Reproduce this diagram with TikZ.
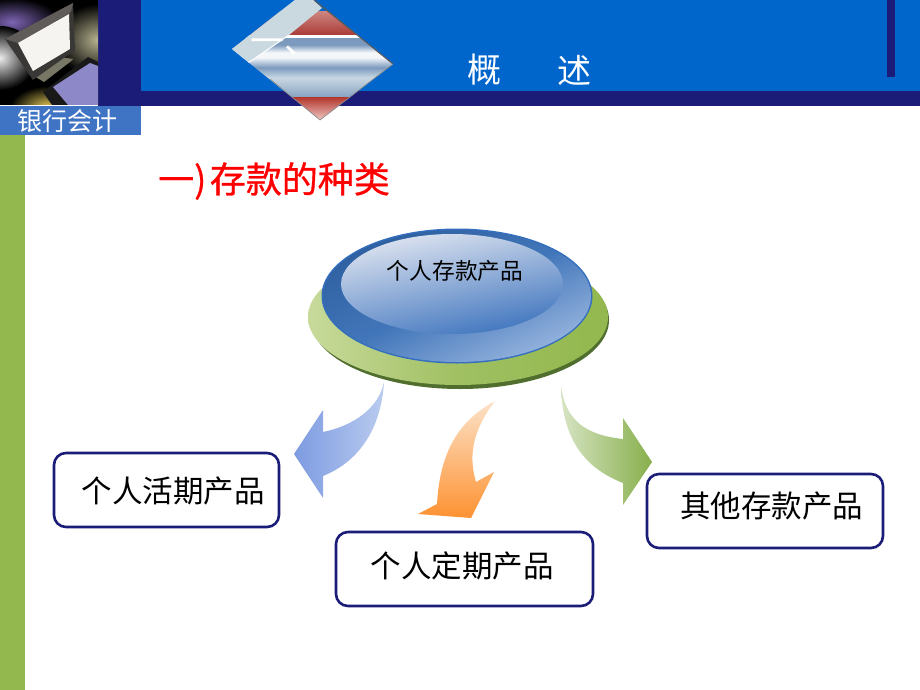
\documentclass[tikz,border=0pt]{standalone}
\usepackage{fontspec}
\newfontfamily\cjk{Noto Sans CJK SC}
\newfontfamily\cjkh[FakeBold=0.8]{Noto Sans CJK SC}
\usetikzlibrary{shadings,calc}
\definecolor{navy}{HTML}{1B1C78}
\definecolor{hblue}{HTML}{0066CC}
\definecolor{lblblue}{HTML}{3F74C4}
\definecolor{barg}{HTML}{93B84E}
\definecolor{sa}{HTML}{F4F7FA}
\definecolor{sb}{HTML}{B8C8D8}
\definecolor{sc}{HTML}{7C9ABE}
\definecolor{sd}{HTML}{DCE6EE}
\definecolor{se}{HTML}{A8BDD2}
\definecolor{sf}{HTML}{C8D6E2}
\definecolor{sg}{HTML}{F6F8FA}
\definecolor{mpurple}{RGB}{125,100,180}
\definecolor{mtan}{RGB}{185,180,145}
\definecolor{myellow}{RGB}{235,210,90}
\definecolor{mwhite}{RGB}{235,235,235}
\definecolor{mpanel}{RGB}{141,136,200}
\definecolor{mscreen}{RGB}{246,244,240}
\definecolor{mbezel}{RGB}{58,56,54}
\definecolor{mbezeltop}{RGB}{95,92,90}
\definecolor{mstand}{RGB}{120,118,100}
\definecolor{redlt}{RGB}{205,130,125}
\definecolor{reddk}{RGB}{170,60,55}
\definecolor{redbt}{RGB}{180,60,50}
\definecolor{redpl}{RGB}{240,200,195}
\definecolor{dlight}{RGB}{202,216,224}
\definecolor{gshadow}{RGB}{80,110,45}
\definecolor{glt}{RGB}{200,218,155}
\definecolor{gmid}{RGB}{160,192,98}
\definecolor{dblue}{RGB}{52,110,190}
\definecolor{dba}{RGB}{46,96,160}
\definecolor{dbb}{RGB}{150,180,222}
\definecolor{dbc}{RGB}{66,118,186}
\definecolor{dia}{RGB}{222,228,240}
\definecolor{dib}{RGB}{62,116,190}
\definecolor{arba}{RGB}{125,155,225}
\definecolor{arbb}{RGB}{185,203,238}
\definecolor{aroa}{RGB}{252,226,200}
\definecolor{arob}{RGB}{253,146,50}
\definecolor{arga}{RGB}{215,228,195}
\definecolor{argb}{RGB}{135,175,75}
\pgfdeclareverticalshading{dstripe}{100bp}{
 color(0bp)=(sg);color(12bp)=(sd);color(24bp)=(sc);color(34bp)=(se);color(42bp)=(sf);
 color(50bp)=(sc);color(58bp)=(sa);color(62bp)=(sa);color(68bp)=(sc);color(80bp)=(sc);color(92bp)=(sb);color(100bp)=(sa)}
\pgfdeclareradialshading{gpurple}{\pgfpointorigin}{color(0bp)=(mpurple);color(25bp)=(black);color(50bp)=(black)}
\pgfdeclareradialshading{gtan}{\pgfpointorigin}{color(0bp)=(mtan);color(25bp)=(black);color(50bp)=(black)}
\pgfdeclareradialshading{gwhite}{\pgfpointorigin}{color(0bp)=(mwhite);color(25bp)=(black);color(50bp)=(black)}
\pgfdeclareradialshading{gyellow}{\pgfpointorigin}{color(0bp)=(myellow);color(25bp)=(black);color(50bp)=(black)}
\tikzset{
 x=1pt,y=-1pt,
 boxs/.style={draw=navy,line width=2.6pt,rounded corners=12pt,fill=white,text=black,font=\cjk\fontsize{30.5}{30.5}\selectfont,inner sep=0pt,anchor=center},
 title/.style={font=\cjk\fontsize{34}{34}\selectfont,text=white,inner sep=0pt}
}
\begin{document}
\begin{tikzpicture}
\useasboundingbox (0,0) rectangle (920,690);
\fill[white] (0,0) rectangle (920,690);
% header
\fill[hblue] (141,0) rectangle (920,91);
\fill[navy] (98,0) rectangle (141,106);
\fill[navy] (141,91) rectangle (920,106);
\fill[navy] (887,0) rectangle (895,77);
\fill[lblblue] (0,106) rectangle (141,135);
\fill[barg] (0,135) rectangle (25,690);
% picture at top left
\begin{scope}
\clip (0,0) rectangle (98,105);
\fill[black] (0,0) rectangle (98,105);
\shade[shading=gpurple] (12,22) ellipse [x radius=48,y radius=24];
\shade[shading=gtan] (98,40) ellipse [x radius=44,y radius=36];
\shade[shading=gwhite] (0,58) ellipse [x radius=36,y radius=32];
\shade[shading=gyellow] (48,108) ellipse [x radius=38,y radius=22];
\fill[black!90] (43,92) -- (88,57) -- (98,62) -- (98,105) -- (52,105) -- cycle;
\fill[mpanel] (53,87) -- (90,63) -- (98,66) -- (98,105) -- (68,105) -- cycle;
\fill[mstand] (34,76) -- (60,57) -- (73,59) -- (70,62) -- (44,82) -- cycle;
\fill[mbezel] (5,39) -- (73,3) -- (75,50) -- (33,80) -- cycle;
\fill[mbezeltop] (5,39) -- (73,3) -- (71,12) -- (18,43) -- cycle;
\fill[mscreen] (18,43) -- (69,14) -- (70,49) -- (33,71) -- cycle;
\end{scope}
% diamond
\begin{scope}
\clip (232,49) -- (305,-8) -- (393,64) -- (320,120) -- cycle;
\shade[shading=dstripe] (225,36) rectangle (400,99);
\shade[top color=redlt,bottom color=reddk] (225,12) rectangle (400,35);
\fill[white] (225,35) rectangle (400,38);
\shade[top color=redbt,bottom color=redpl] (225,98) rectangle (400,120);
\fill[dlight] (232,49) -- (305,-8) -- (322,8) -- (289,35) -- (248,63) -- cycle;
\draw[white,line width=1pt] (289,35) -- (248,63);
\end{scope}
\draw[black!65,line width=1.1pt] (314,0) -- (393,64);
\draw[black!45,line width=.7pt] (393,64) -- (320,120) -- (270,79);
% header texts
\node[title,anchor=west] (dmark) at (250,47) {一、};
\node[title] (gai) at (484,70) {概};
\node[title] (shu) at (574,70) {述};
\node[font=\cjk\fontsize{25}{25}\selectfont,text=white,inner sep=0pt] (bank) at (67,121) {银行会计};
\node[font=\cjkh\fontsize{36}{36}\selectfont,text=red,inner sep=0pt,anchor=west] (head) at (158,181) {一)\hspace{3.5pt}存款的种类};
% disc
\fill[gshadow] (460,320) ellipse [x radius=149,y radius=69];
\shade[left color=glt,right color=barg,middle color=gmid] (458,317) ellipse [x radius=150,y radius=68];
\fill[dblue] (457,296) ellipse [x radius=135.5,y radius=67.5];
\shade[top color=dba,bottom color=dbb,middle color=dbc,shading angle=25] (457,296) ellipse [x radius=134,y radius=66];
\shade[top color=dia,bottom color=dib,shading angle=12] (452,284) ellipse [x radius=111,y radius=50];
\node[font=\cjk\fontsize{22.7}{22.7}\selectfont,text=black,inner sep=0pt] (disc) at (455,271) {个人存款产品};
% arrows
\shade[left color=arba,right color=arbb]
  (384,382) .. controls (379,408) and (353,426) .. (323,432)
  -- (323,410) -- (294,454) -- (323,498) -- (323,476)
  .. controls (358,462) and (381,430) .. (384,382) -- cycle;
\shade[top color=aroa,bottom color=arob]
  (495,401) .. controls (460,420) and (440,450) .. (437,504)
  -- (418,514) -- (471,518) -- (494,472) -- (476,482)
  .. controls (468,455) and (473,430) .. (495,401) -- cycle;
\shade[left color=arga,right color=argb]
  (561,385) .. controls (565,420) and (585,435) .. (623,439)
  -- (623,418) -- (652,462) -- (623,505) -- (623,483)
  .. controls (590,470) and (562,445) .. (561,385) -- cycle;
% boxes
\node[boxs,minimum width=225pt,minimum height=74pt] (b1) at (166.5,490) {\hspace{13pt}\raisebox{-12pt}[0pt][0pt]{个人活期产品}};
\node[boxs,minimum width=257pt,minimum height=74pt] (b2) at (464.5,569) {\hspace{-5pt}\raisebox{-8.5pt}[0pt][0pt]{个人定期产品}};
\node[boxs,minimum width=236pt,minimum height=74pt] (b3) at (765,511) {\hspace{13pt}\raisebox{-6.5pt}[0pt][0pt]{其他存款产品}};
\end{tikzpicture}
\end{document}
